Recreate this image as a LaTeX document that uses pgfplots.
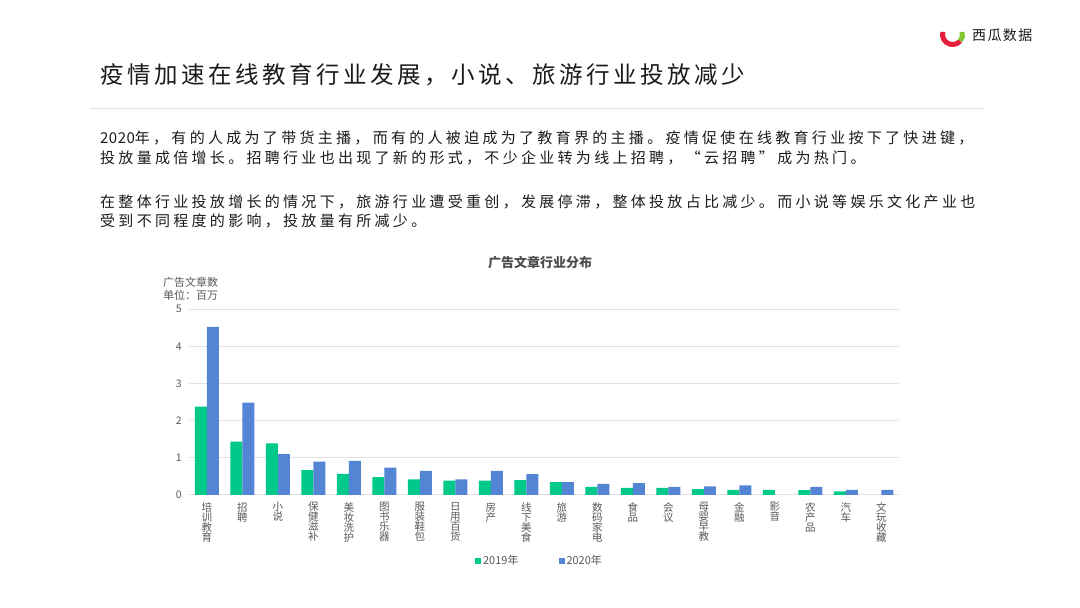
\documentclass[border=0pt]{standalone}
\usepackage{fontspec}
\setmainfont{Noto Sans CJK SC}
\usepackage{pgfplots}
\usepackage{pgfplotstable}
\pgfplotsset{compat=1.18}
\definecolor{cgreen}{RGB}{0,201,138}
\definecolor{cblue}{RGB}{84,133,212}
\definecolor{txt}{RGB}{28,28,28}
\definecolor{lbl}{RGB}{89,89,89}
\definecolor{gridc}{RGB}{225,225,225}
\definecolor{logored}{RGB}{230,30,60}
\definecolor{logogreen}{RGB}{130,200,50}

% 2019
\pgfplotstableread{
x y
0 2.38
1 1.44
2 1.39
3 0.67
4 0.57
5 0.48
6 0.42
7 0.39
8 0.39
9 0.40
10 0.35
11 0.22
12 0.19
13 0.19
14 0.16
15 0.14
16 0.14
17 0.13
18 0.10
}\dataA
% 2020
\pgfplotstableread{
x y
0 4.53
1 2.49
2 1.10
3 0.90
4 0.92
5 0.74
6 0.65
7 0.42
8 0.65
9 0.56
10 0.35
11 0.30
12 0.32
13 0.22
14 0.23
15 0.26
17 0.22
18 0.14
19 0.14
}\dataB

\begin{document}
\begin{tikzpicture}[x=1bp,y=1bp]
\fill[white] (0bp,0bp) rectangle (1080bp,608bp);
\path[use as bounding box] (0bp,0bp) rectangle (1080bp,608bp);

% logo
\draw[logored, line width=5bp] (952.5bp,573.5bp) ++(165:10bp) arc[start angle=165, end angle=320, radius=10bp];
\draw[logogreen, line width=5bp] (952.5bp,573.5bp) ++(320:10bp) arc[start angle=320, end angle=375, radius=10bp];
\node[anchor=west, inner sep=0pt, text=txt, font={\fontsize{14bp}{16bp}\selectfont\addfontfeature{LetterSpace=10}}] at (972bp,572.5bp) {西瓜数据};

% title
\node[anchor=base west, inner sep=0pt, text=txt, font={\fontsize{23.5bp}{28bp}\selectfont\addfontfeature{LetterSpace=15}}] at (100bp,524.6bp) {疫情加速在线教育行业发展，小说、旅游行业投放减少};
\draw[gridc, line width=1bp] (90bp,499bp) -- (985bp,499bp);

% paragraphs
\begin{scope}[every node/.style={anchor=base west, inner sep=0pt, text=txt, font={\fontsize{15bp}{18bp}\selectfont\addfontfeature{LetterSpace=22}}}]
\node at (100bp,464.3bp) {{\addfontfeature{LetterSpace=3}2020}年，有的人成为了带货主播，而有的人被迫成为了教育界的主播。疫情促使在线教育行业按下了快进键，};
\node at (100bp,444.8bp) {投放量成倍增长。招聘行业也出现了新的形式，不少企业转为线上招聘，“云招聘”成为热门。};
\node at (100bp,400.3bp) {在整体行业投放增长的情况下，旅游行业遭受重创，发展停滞，整体投放占比减少。而小说等娱乐文化产业也};
\node at (100bp,381.3bp) {受到不同程度的影响，投放量有所减少。};
\end{scope}

% chart title and y label
\node[anchor=center, inner sep=0pt, text=lbl!85!black, font={\fontsize{13bp}{15bp}\selectfont\bfseries}] at (540bp,345bp) {广告文章行业分布};
\node[anchor=base west, inner sep=0pt, text=lbl, font={\fontsize{11bp}{13bp}\selectfont}] at (163bp,321.8bp) {广告文章数};
\node[anchor=base west, inner sep=0pt, text=lbl, font={\fontsize{11bp}{13bp}\selectfont}] at (163bp,308.3bp) {单位：百万};

\begin{axis}[
  at={(189bp,113bp)}, anchor=south west,
  scale only axis, width=710bp, height=185.7bp,
  xmin=-0.5, xmax=19.5, ymin=0, ymax=5,
  ytick={0,1,2,3,4,5},
  xtick={0,...,19},
  xticklabels={{培\\训\\教\\育},{招\\聘},{小\\说},{保\\健\\滋\\补},{美\\妆\\洗\\护},{图\\书\\乐\\器},{服\\装\\鞋\\包},{日\\用\\百\\货},{房\\产},{线\\下\\美\\食},{旅\\游},{数\\码\\家\\电},{食\\品},{会\\议},{母\\婴\\早\\教},{金\\融},{影\\音},{农\\产\\品},{汽\\车},{文\\玩\\收\\藏}},
  ybar=0pt, bar width=12bp,
  axis line style={draw=none},
  ymajorgrids, grid style={gridc, line width=1bp},
  major tick length=0pt, tick style={draw=none},
  /pgf/number format/assume math mode=true,
  yticklabel style={anchor=east, inner sep=0pt, xshift=-7bp, text=lbl, font={\fontsize{10.5bp}{12bp}\selectfont}},
  xticklabel style={align=center, anchor=north, inner sep=0pt, yshift=-7bp, text=lbl, font={\fontsize{10.5bp}{10bp}\selectfont}},
  legend style={at={(axis description cs:0.4937,-0.3554)}, anchor=center, draw=none, fill=none,
    font={\fontsize{11bp}{13bp}\selectfont}, text=lbl, legend columns=2,
    /tikz/every even column/.append style={column sep=38bp}},
  legend cell align=left,
]
\addplot[fill=cgreen, draw=none, legend image code/.code={\fill[cgreen] (0bp,-3bp) rectangle (6bp,3bp);}] table[x=x,y=y] {\dataA};
\addlegendentry{2019年}
\addplot[fill=cblue, draw=none, legend image code/.code={\fill[cblue] (0bp,-3bp) rectangle (6bp,3bp);}] table[x=x,y=y] {\dataB};
\addlegendentry{2020年}
\end{axis}
\end{tikzpicture}
\end{document}
